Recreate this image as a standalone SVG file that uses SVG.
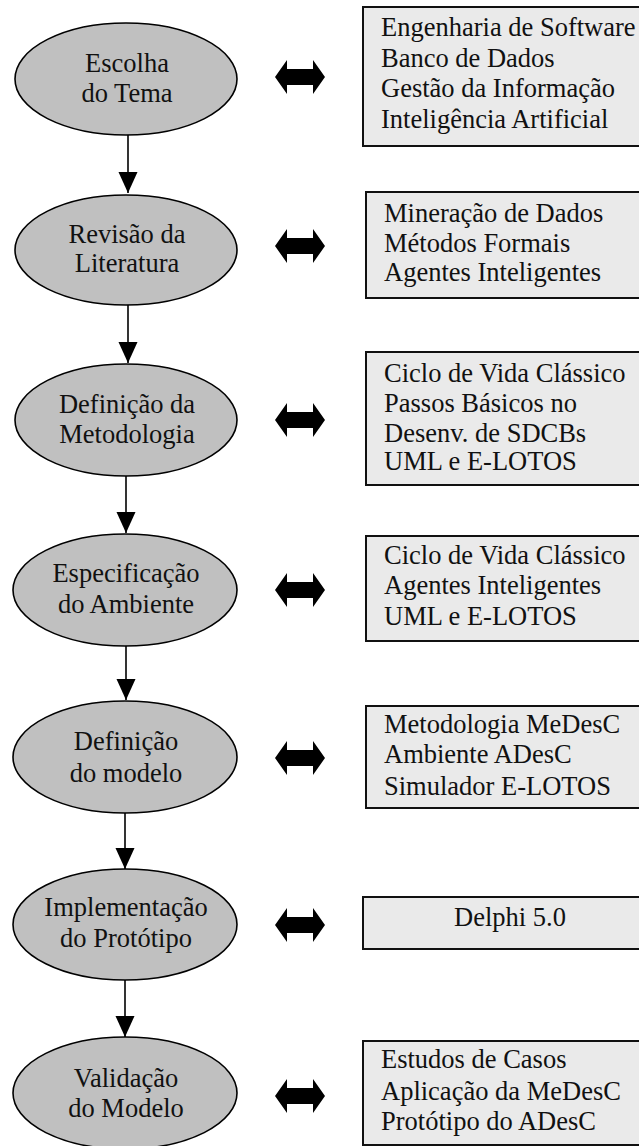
<svg xmlns="http://www.w3.org/2000/svg" width="639" height="1146" viewBox="0 0 639 1146">
  <style>
    .step ellipse { fill: #c0c0c0; stroke: #000; stroke-width: 1.6; }
    .topic rect { fill: #eaeaea; stroke: #111; stroke-width: 2; }
    text { font-family: "Liberation Serif", "Times New Roman", serif; font-size: 26.5px; fill: #111; }
    .step text { text-anchor: middle; }
    .flow line { stroke: #000; stroke-width: 1.6; }
  </style>
  <defs>
    <marker id="head" markerUnits="userSpaceOnUse" markerWidth="21" markerHeight="20" refX="21" refY="9.5" orient="auto">
      <path d="M0,0 L21,9.5 L0,19 Z" fill="#000"/>
    </marker>
    <path id="both" d="M-25,0 L-13,-17 L-13,-8 L13,-8 L13,-17 L25,0 L13,17 L13,8 L-13,8 L-13,17 Z" fill="#000"/>
  </defs>
  <rect width="639" height="1146" fill="#fff"/>

  <!-- vertical flow between steps, and two-way links to the topic boxes -->
  <g id="connectors" class="flow">
    <line x1="128" y1="135" x2="128" y2="193" marker-end="url(#head)"/>
    <line x1="128" y1="305" x2="128" y2="363" marker-end="url(#head)"/>
    <line x1="126" y1="475" x2="126" y2="533" marker-end="url(#head)"/>
    <line x1="126" y1="646" x2="126" y2="700" marker-end="url(#head)"/>
    <line x1="125" y1="813" x2="125" y2="869" marker-end="url(#head)"/>
    <line x1="125" y1="980" x2="125" y2="1037" marker-end="url(#head)"/>
    <use href="#both" x="300" y="77"/>
    <use href="#both" x="300" y="246"/>
    <use href="#both" x="300" y="420"/>
    <use href="#both" x="300" y="590"/>
    <use href="#both" x="300" y="758"/>
    <use href="#both" x="300" y="925"/>
    <use href="#both" x="300" y="1096"/>
  </g>

  <!-- process steps -->
  <g id="step1" class="step">
    <ellipse cx="126" cy="79" rx="111" ry="56"/>
    <text x="127" y="72">Escolha</text>
    <text x="127" y="102">do Tema</text>
  </g>
  <g id="step2" class="step">
    <ellipse cx="126" cy="250" rx="111" ry="55"/>
    <text x="127" y="243">Revisão da</text>
    <text x="127" y="272">Literatura</text>
  </g>
  <g id="step3" class="step">
    <ellipse cx="126" cy="420" rx="111" ry="56"/>
    <text x="127" y="413">Definição da</text>
    <text x="127" y="443">Metodologia</text>
  </g>
  <g id="step4" class="step">
    <ellipse cx="125" cy="590" rx="112" ry="56"/>
    <text x="126" y="582">Especificação</text>
    <text x="126" y="613">do Ambiente</text>
  </g>
  <g id="step5" class="step">
    <ellipse cx="125" cy="757" rx="112" ry="56"/>
    <text x="126" y="750">Definição</text>
    <text x="126" y="782">do modelo</text>
  </g>
  <g id="step6" class="step">
    <ellipse cx="125" cy="924.5" rx="112" ry="55.5"/>
    <text x="126" y="916">Implementação</text>
    <text x="126" y="947">do Protótipo</text>
  </g>
  <g id="step7" class="step">
    <ellipse cx="125" cy="1093" rx="112" ry="56"/>
    <text x="126" y="1087">Validação</text>
    <text x="126" y="1117">do Modelo</text>
  </g>

  <!-- related topics -->
  <g id="topic1" class="topic">
    <rect x="363" y="7" width="290" height="139"/>
    <text x="381" y="36">Engenharia de Software</text>
    <text x="381" y="67">Banco de Dados</text>
    <text x="381" y="97">Gestão da Informação</text>
    <text x="381" y="128">Inteligência Artificial</text>
  </g>
  <g id="topic2" class="topic">
    <rect x="366" y="192" width="290" height="106"/>
    <text x="384" y="222">Mineração de Dados</text>
    <text x="384" y="252">Métodos Formais</text>
    <text x="384" y="281">Agentes Inteligentes</text>
  </g>
  <g id="topic3" class="topic">
    <rect x="366" y="352" width="290" height="133"/>
    <text x="384" y="382">Ciclo de Vida Clássico</text>
    <text x="384" y="412">Passos Básicos no</text>
    <text x="384" y="442">Desenv. de SDCBs</text>
    <text x="384" y="470">UML e E-LOTOS</text>
  </g>
  <g id="topic4" class="topic">
    <rect x="366" y="536" width="290" height="105"/>
    <text x="384" y="564">Ciclo de Vida Clássico</text>
    <text x="384" y="594">Agentes Inteligentes</text>
    <text x="384" y="625">UML e E-LOTOS</text>
  </g>
  <g id="topic5" class="topic">
    <rect x="366" y="706" width="290" height="102"/>
    <text x="384" y="733">Metodologia MeDesC</text>
    <text x="384" y="763">Ambiente ADesC</text>
    <text x="384" y="795">Simulador E-LOTOS</text>
  </g>
  <g id="topic6" class="topic">
    <rect x="363" y="897" width="290" height="52"/>
    <text x="510" y="926" text-anchor="middle">Delphi 5.0</text>
  </g>
  <g id="topic7" class="topic">
    <rect x="363" y="1041" width="290" height="104"/>
    <text x="381" y="1068">Estudos de Casos</text>
    <text x="381" y="1100">Aplicação da MeDesC</text>
    <text x="381" y="1130">Protótipo do ADesC</text>
  </g>
</svg>
